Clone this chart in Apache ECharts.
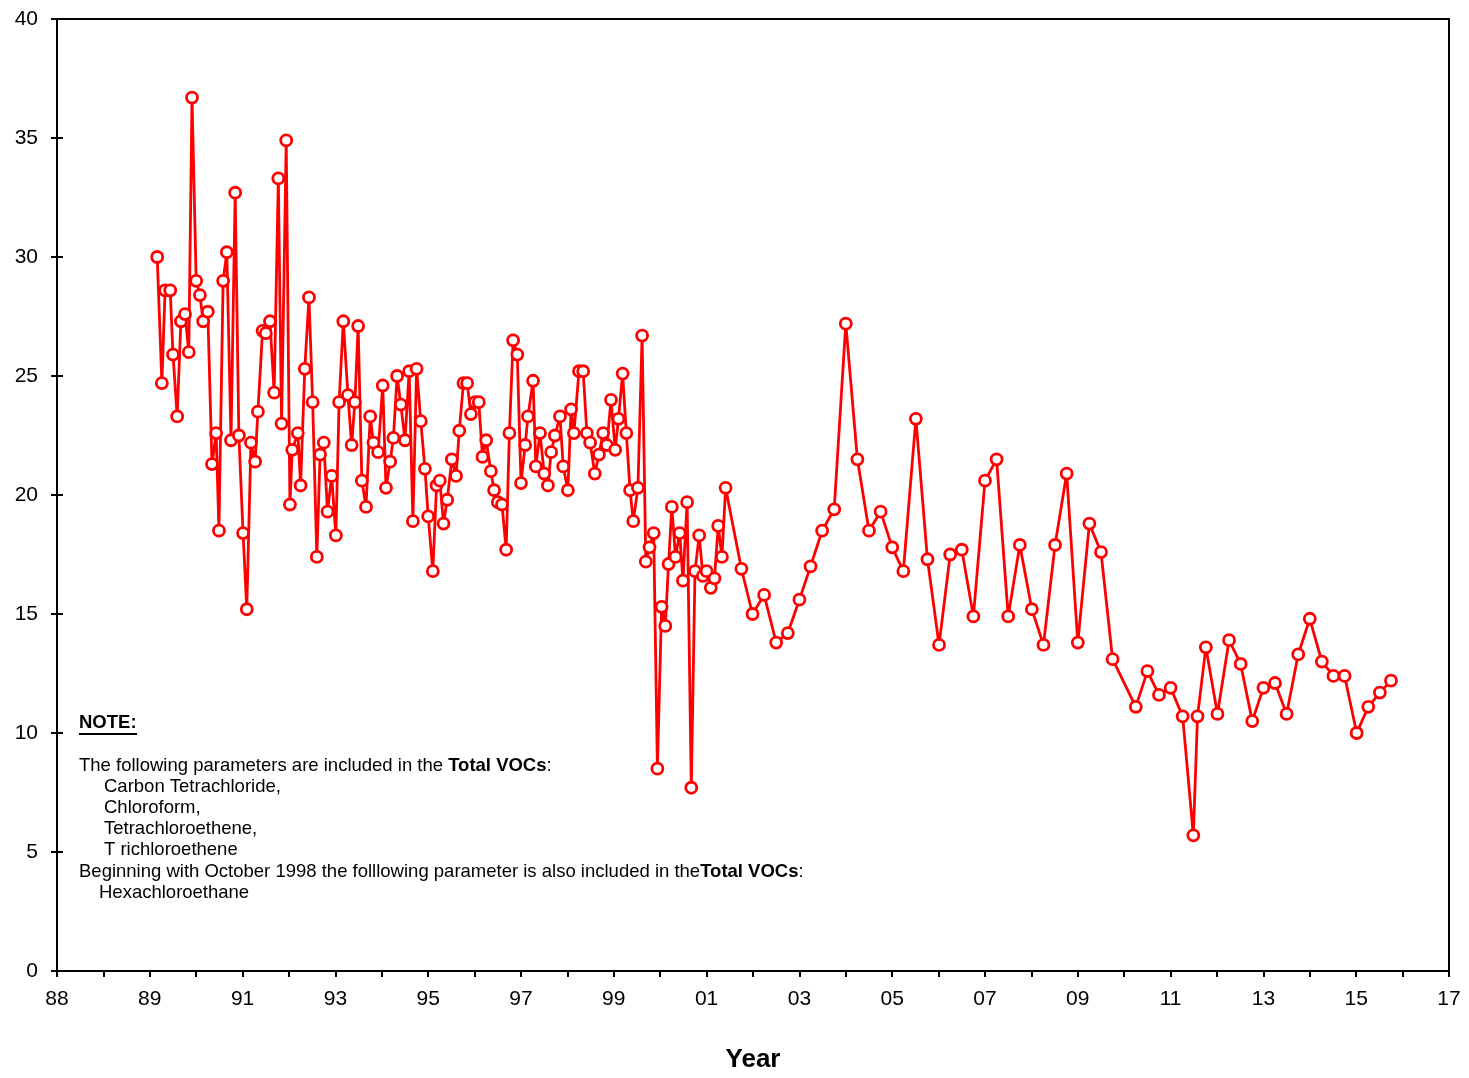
<!DOCTYPE html>
<html>
<head>
<meta charset="utf-8">
<script src="https://cdn.jsdelivr.net/npm/echarts@6/dist/echarts.min.js"></script>
<style>
  html, body { margin: 0; padding: 0; background: #fff; }
  #main { width: 1469px; height: 1078px; }
</style>
</head>
<body>
<div id="main"></div>
<script>
// sample dates (decimal year on the chart's own scale) and Total VOCs values
var sampleYears = [
  1989.16, 1989.26, 1989.33, 1989.44, 1989.50, 1989.59, 1989.67, 1989.76, 1989.84, 1989.91,
  1990.00, 1990.08, 1990.15, 1990.25, 1990.34, 1990.43, 1990.49, 1990.58, 1990.66, 1990.75,
  1990.84, 1990.92, 1991.01, 1991.09, 1991.18, 1991.27, 1991.33, 1991.43, 1991.50, 1991.59,
  1991.68, 1991.77, 1991.84, 1991.94, 1992.02, 1992.07, 1992.19, 1992.25, 1992.34, 1992.43,
  1992.51, 1992.60, 1992.67, 1992.75, 1992.83, 1992.92, 1993.01, 1993.08, 1993.17, 1993.27,
  1993.35, 1993.42, 1993.49, 1993.57, 1993.66, 1993.75, 1993.82, 1993.92, 1994.02, 1994.09,
  1994.18, 1994.25, 1994.33, 1994.41, 1994.50, 1994.59, 1994.67, 1994.75, 1994.84, 1994.93,
  1995.00, 1995.10, 1995.18, 1995.25, 1995.33, 1995.41, 1995.51, 1995.60, 1995.67, 1995.76,
  1995.84, 1995.92, 1996.01, 1996.09, 1996.17, 1996.25, 1996.35, 1996.42, 1996.50, 1996.59,
  1996.68, 1996.75, 1996.83, 1996.92, 1997.00, 1997.09, 1997.15, 1997.26, 1997.32, 1997.41,
  1997.50, 1997.58, 1997.65, 1997.73, 1997.84, 1997.91, 1998.01, 1998.08, 1998.14, 1998.25,
  1998.34, 1998.42, 1998.49, 1998.59, 1998.68, 1998.77, 1998.85, 1998.94, 1999.03, 1999.10,
  1999.19, 1999.27, 1999.35, 1999.42, 1999.52, 1999.61, 1999.69, 1999.77, 1999.86, 1999.94,
  2000.03, 2000.11, 2000.18, 2000.25, 2000.33, 2000.42, 2000.49, 2000.58, 2000.67, 2000.75,
  2000.84, 2000.92, 2001.00, 2001.09, 2001.17, 2001.25, 2001.33, 2001.41,
  2001.75, 2001.99, 2002.24, 2002.50, 2002.75, 2003.00, 2003.24, 2003.49, 2003.75, 2004.00,
  2004.25, 2004.50, 2004.75, 2005.00, 2005.24, 2005.51, 2005.76, 2006.01, 2006.25, 2006.50,
  2006.75, 2007.00, 2007.25, 2007.50, 2007.75, 2008.01, 2008.26, 2008.51, 2008.76, 2009.00,
  2009.25, 2009.50, 2009.75, 2010.25, 2010.50, 2010.75, 2011.00, 2011.26, 2011.49, 2011.58,
  2011.76, 2012.01, 2012.26, 2012.51, 2012.76, 2013.00, 2013.25, 2013.50, 2013.75, 2014.00,
  2014.26, 2014.51, 2014.75, 2015.01, 2015.26, 2015.51, 2015.75
];
var totalVocs = [
  30.0, 24.7, 28.6, 28.6, 25.9, 23.3, 27.3, 27.6, 26.0, 36.7,
  29.0, 28.4, 27.3, 27.7, 21.3, 22.6, 18.5, 29.0, 30.2, 22.3,
  32.7, 22.5, 18.4, 15.2, 22.2, 21.4, 23.5, 26.9, 26.8, 27.3,
  24.3, 33.3, 23.0, 34.9, 19.6, 21.9, 22.6, 20.4, 25.3, 28.3,
  23.9, 17.4, 21.7, 22.2, 19.3, 20.8, 18.3, 23.9, 27.3, 24.2,
  22.1, 23.9, 27.1, 20.6, 19.5, 23.3, 22.2, 21.8, 24.6, 20.3,
  21.4, 22.4, 25.0, 23.8, 22.3, 25.2, 18.9, 25.3, 23.1, 21.1,
  19.1, 16.8, 20.4, 20.6, 18.8, 19.8, 21.5, 20.8, 22.7, 24.7,
  24.7, 23.4, 23.9, 23.9, 21.6, 22.3, 21.0, 20.2, 19.7, 19.6,
  17.7, 22.6, 26.5, 25.9, 20.5, 22.1, 23.3, 24.8, 21.2, 22.6,
  20.9, 20.4, 21.8, 22.5, 23.3, 21.2, 20.2, 23.6, 22.6, 25.2,
  25.2, 22.6, 22.2, 20.9, 21.7, 22.6, 22.1, 24.0, 21.9, 23.2,
  25.1, 22.6, 20.2, 18.9, 20.3, 26.7, 17.2, 17.8, 18.4, 8.5,
  15.3, 14.5, 17.1, 19.5, 17.4, 18.4, 16.4, 19.7, 7.7, 16.8,
  18.3, 16.6, 16.8, 16.1, 16.5, 18.7, 17.4, 20.3,
  16.9, 15.0, 15.8, 13.8, 14.2, 15.6, 17.0, 18.5, 19.4, 27.2,
  21.5, 18.5, 19.3, 17.8, 16.8, 23.2, 17.3, 13.7, 17.5, 17.7,
  14.9, 20.6, 21.5, 14.9, 17.9, 15.2, 13.7, 17.9, 20.9, 13.8,
  18.8, 17.6, 13.1, 11.1, 12.6, 11.6, 11.9, 10.7, 5.7, 10.7,
  13.6, 10.8, 13.9, 12.9, 10.5, 11.9, 12.1, 10.8, 13.3, 14.8,
  13.0, 12.4, 12.4, 10.0, 11.1, 11.7, 12.2
];
var xTickLabels = ['88', '89', '91', '93', '95', '97', '99', '01', '03', '05', '07', '09', '11', '13', '15', '17'];
var noteLines = [
  'The following parameters are included in the {b|Total VOCs}:',
  'Carbon Tetrachloride,',
  'Chloroform,',
  'Tetrachloroethene,',
  'T richloroethene',
  'Beginning with October 1998 the folllowing parameter is also included in the{b|Total VOCs}:',
  'Hexachloroethane'
];

var FONT = '"Liberation Sans", Arial, sans-serif';
var chart = echarts.init(document.getElementById('main'));

var seriesData = [];
for (var i = 0; i < sampleYears.length; i++) {
  seriesData.push([sampleYears[i], totalVocs[i]]);
}

// note block in the lower left corner
var noteIndent = [0, 25, 25, 25, 25, 0, 20];
var graphics = [
  { type: 'text', left: 79, top: 713, style: { text: 'NOTE:', font: 'bold 18.5px ' + FONT, fill: '#000' } },
  { type: 'rect', left: 79, top: 733, shape: { width: 58, height: 2 }, style: { fill: '#000' } }
];
for (var j = 0; j < noteLines.length; j++) {
  graphics.push({
    type: 'text',
    left: 79 + noteIndent[j],
    top: 756 + j * 21.2,
    style: {
      text: noteLines[j],
      font: '18.5px ' + FONT,
      fill: '#000',
      rich: { b: { font: 'bold 18.5px ' + FONT, fill: '#000' } }
    }
  });
}

var option = {
  animation: false,
  backgroundColor: '#fff',
  grid: {
    left: 57, right: 20, top: 19, bottom: 107,
    show: true, borderColor: '#000', borderWidth: 2
  },
  xAxis: {
    type: 'value', min: 1987, max: 2017, interval: 2,
    name: 'Year', nameLocation: 'middle', nameGap: 76,
    nameTextStyle: { fontFamily: FONT, fontSize: 26, fontWeight: 'bold', color: '#000' },
    axisLine: { lineStyle: { color: '#000', width: 2 } },
    axisTick: { length: 6, lineStyle: { color: '#000', width: 2 } },
    minorTick: { show: true, splitNumber: 2, length: 6, lineStyle: { color: '#000', width: 2 } },
    splitLine: { show: false },
    axisLabel: {
      margin: 18, fontFamily: FONT, fontSize: 21, color: '#000',
      formatter: function (v) { return xTickLabels[Math.round((v - 1987) / 2)]; }
    }
  },
  yAxis: [{
    type: 'value', min: 0, max: 40, interval: 5,
    axisLine: { show: true, lineStyle: { color: '#000', width: 2 } },
    axisTick: { show: true, length: 6, lineStyle: { color: '#000', width: 2 } },
    splitLine: { show: false },
    axisLabel: { margin: 19, fontFamily: FONT, fontSize: 21, color: '#000' }
  }, {
    type: 'value', min: 0, max: 40, interval: 5, position: 'left',
    axisLine: { show: false },
    axisTick: { show: true, inside: true, length: 6, lineStyle: { color: '#000', width: 2 } },
    splitLine: { show: false },
    axisLabel: { show: false }
  }],
  graphic: graphics,
  series: [{
    type: 'line',
    data: seriesData,
    yAxisIndex: 0,
    symbol: 'circle',
    symbolSize: 11,
    showAllSymbol: true,
    lineStyle: { color: '#ff0000', width: 2.8 },
    itemStyle: { color: '#fff', borderColor: '#ff0000', borderWidth: 2.8 }
  }]
};

chart.setOption(option);
</script>
</body>
</html>
